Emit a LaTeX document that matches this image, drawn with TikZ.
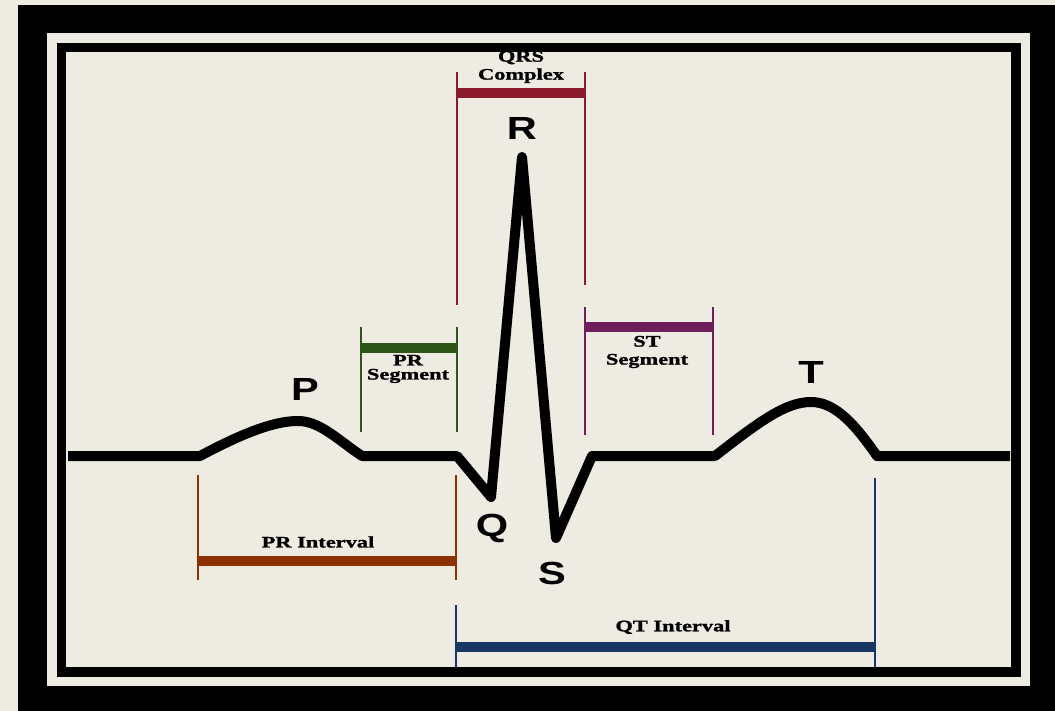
\documentclass[tikz,border=0pt]{standalone}
\usepackage{fontspec}
\newfontfamily\lblfont[FakeStretch=1.4,FakeBold=1.5]{Liberation Serif}
\newfontfamily\wavefont[FakeStretch=1.3]{Liberation Sans}
\definecolor{paper}{RGB}{238,235,226}
\definecolor{qrscol}{RGB}{140,26,46}
\definecolor{prsegcol}{RGB}{45,85,25}
\definecolor{stsegcol}{RGB}{110,30,90}
\definecolor{printcol}{RGB}{140,50,0}
\definecolor{qtcol}{RGB}{25,55,100}

\begin{document}
\begin{tikzpicture}[x=1pt,y=-1pt,
  tick/.style={line width=2.8pt},
  bracebar/.style={line width=10pt},
  wave/.style={line width=10pt,line join=round,draw=black},
  seglabel/.style={align=center,inner sep=0pt,font=\lblfont\bfseries\fontsize{16}{18}\selectfont},
  wavelabel/.style={inner sep=0pt,font=\wavefont\bfseries\fontsize{32}{32}\selectfont}]
\useasboundingbox (0,0) rectangle (1055,711);

% frame
\fill[paper] (0,0) rectangle (1055,711);
\fill[black] (18,5) rectangle (1055,711);
\fill[paper] (47,33) rectangle (1030,686);
\fill[black] (57,43) rectangle (1021,677);
\fill[paper] (66,52) rectangle (1011,667);

% trace
\draw[wave] (68,456) -- (200,456)
  .. controls (245,432) and (275,421) .. (298,421)
  .. controls (320,421) and (338,440) .. (362,456)
  -- (457,456) -- (491,497) -- (522,157) -- (556,538) -- (592,456) -- (715,456)
  .. controls (760,421) and (786,402) .. (811,402)
  .. controls (836,402) and (856,426) .. (877,456) -- (1010,456);

\node[wavelabel] (p) at (305,389) {P};
\node[wavelabel] (r) at (522,128) {R};
\node[wavelabel] (q) at (492,528) {Q};
\node[wavelabel] (s) at (552,573) {S};
\node[wavelabel] (t) at (811,372) {T};

% QRS complex
\draw[tick,qrscol] (457,72) -- (457,305);
\draw[tick,qrscol] (585,72) -- (585,285);
\draw[bracebar,qrscol] (456,93) -- (586,93);
\node[seglabel] (qrs) at (521,67) {QRS\\Complex};

% PR segment
\draw[tick,prsegcol] (361,327) -- (361,432);
\draw[tick,prsegcol] (457,327) -- (457,432);
\draw[bracebar,prsegcol] (360,348) -- (458,348);
\node[seglabel,font=\lblfont\bfseries\fontsize{16}{14}\selectfont] (prseg) at (408,369) {PR\\Segment};

% ST segment
\draw[tick,stsegcol] (585,307) -- (585,435);
\draw[tick,stsegcol] (713,307) -- (713,435);
\draw[bracebar,stsegcol] (584,327) -- (714,327);
\node[seglabel] (stseg) at (647,352) {ST\\Segment};

% PR interval
\draw[tick,printcol] (198,475) -- (198,580);
\draw[tick,printcol] (456,475) -- (456,580);
\draw[bracebar,printcol] (197,561) -- (457,561);
\node[seglabel] (print) at (318,542) {PR Interval};

% QT interval
\draw[tick,qtcol] (456,605) -- (456,667);
\draw[tick,qtcol] (875,478) -- (875,667);
\draw[bracebar,qtcol] (455,647) -- (876,647);
\node[seglabel] (qt) at (673,627) {QT Interval};
\end{tikzpicture}
\end{document}
